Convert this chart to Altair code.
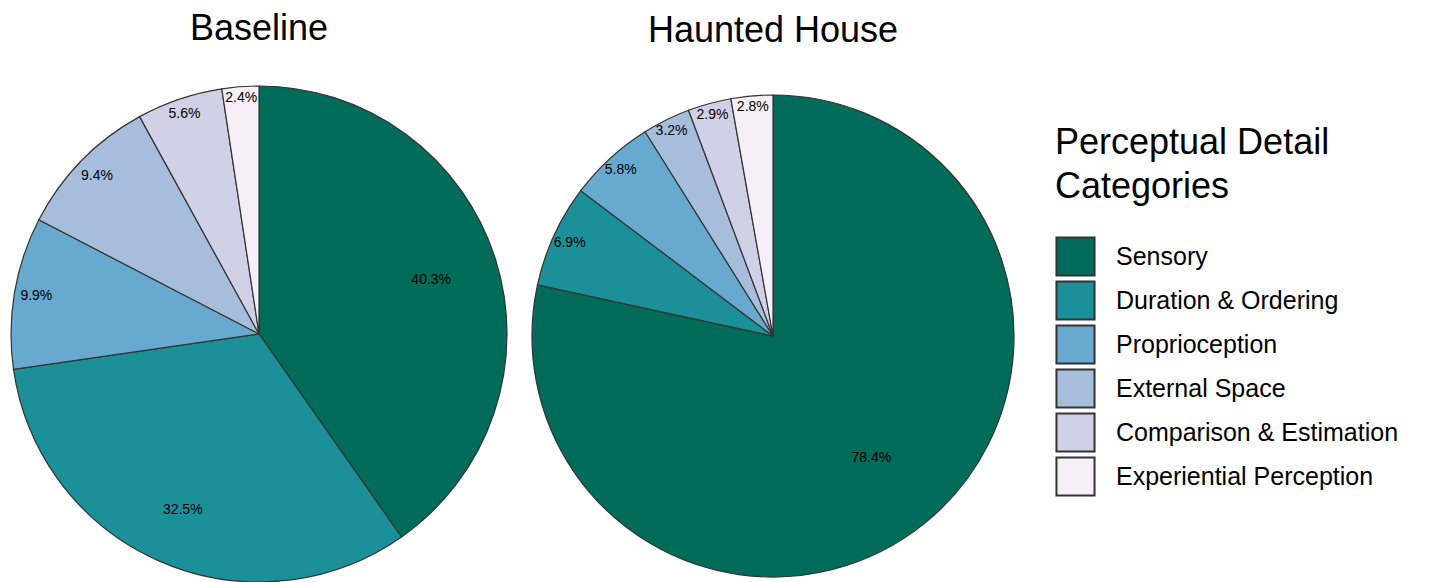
import altair as alt
import pandas as pd

categories = ["Sensory", "Duration & Ordering", "Proprioception", "External Space",
              "Comparison & Estimation", "Experiential Perception"]
colors = ["#016c59", "#1c9099", "#67a9cf", "#a6bddb", "#d0d1e6", "#f6eff7"]
baseline_pct = [40.3, 32.5, 9.9, 9.4, 5.6, 2.4]
haunted_pct = [78.4, 6.9, 5.8, 3.2, 2.9, 2.8]

FONT = "Liberation Sans"


def make_df(vals):
    return pd.DataFrame({
        "category": categories,
        "pct": vals,
        "idx": list(range(len(categories))),
        "label": [f"{v:.1f}%" for v in vals],
    })


color = alt.Color(
    "category:N",
    scale=alt.Scale(domain=categories, range=colors),
    legend=alt.Legend(
        title=["Perceptual Detail", "Categories"],
        orient="none", legendX=1055, legendY=40,
        titleFont=FONT, titleFontSize=36, titleFontWeight="normal",
        titleColor="black", titleLimit=600, titlePadding=30, titleLineHeight=44,
        labelFont=FONT, labelFontSize=25, labelColor="black", labelLimit=600,
        labelOffset=20,
        symbolType="square", symbolSize=1450, symbolStrokeColor="#333333",
        symbolStrokeWidth=2, symbolOpacity=1, rowPadding=-7,
    ),
)


def pie(vals, title, w, h, R, cy):
    df = make_df(vals)
    arcs = alt.Chart(df).mark_arc(
        outerRadius=R, stroke="#333333", strokeWidth=1.2
    ).encode(
        theta=alt.Theta("pct:Q", stack=True),
        order=alt.Order("idx:Q", sort="ascending"),
        color=color,
        y=alt.value(cy),
    )
    text = alt.Chart(df).transform_window(
        cum="sum(pct)", sort=[alt.SortField("idx", order="ascending")]
    ).transform_calculate(
        mid="datum.cum - datum.pct / 2",
        lr=f"max(0.65, 0.97 - 0.006*datum.pct) * {R}",
    ).mark_text(font=FONT, fontSize=14, color="black").encode(
        theta=alt.Theta("mid:Q", stack=None),
        radius=alt.Radius("lr:Q", scale=None),
        text="label:N",
        y=alt.value(cy),
    )
    return alt.layer(arcs, text).properties(
        width=w, height=h,
        title=alt.Title(title, font=FONT, fontSize=36, fontWeight="normal",
                        color="black", anchor="middle", offset=36),
    )


c1 = pie(baseline_pct, "Baseline", 518, 496, 248, 248)
c2 = pie(haunted_pct, "Haunted House", 510, 496, 241, 250)

chart = alt.hconcat(c1, c2, spacing=0).properties(
    padding={"left": 0, "top": 10, "right": 0, "bottom": 0},
    background="white",
).configure_view(strokeWidth=0, stroke="transparent")

chart.save("out.html", embed_options={"renderer": "svg", "actions": False})
